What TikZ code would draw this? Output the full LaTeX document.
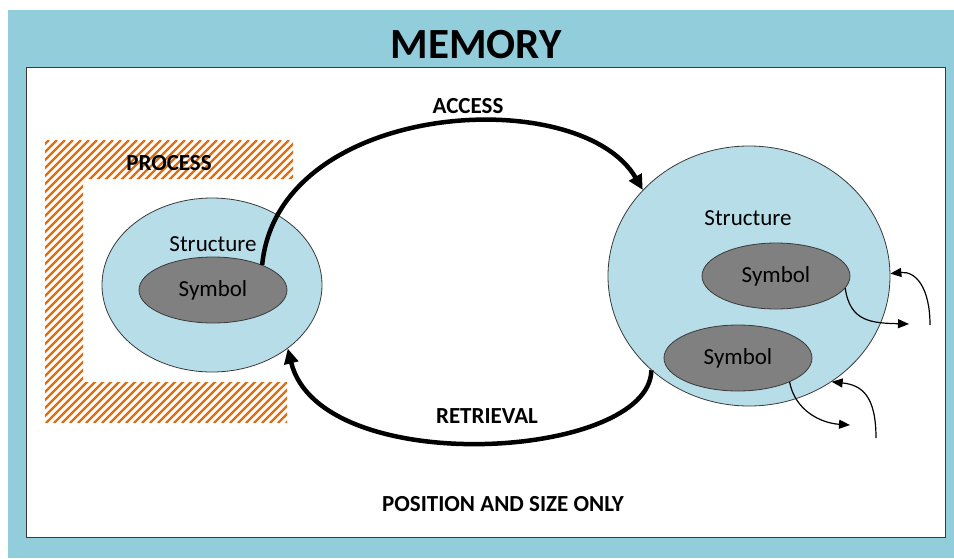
\documentclass[tikz,border=0pt]{standalone}
\usepackage{fontspec}
\setmainfont{Carlito}
\usetikzlibrary{shapes.geometric,arrows.meta}
\definecolor{frameblue}{HTML}{92CDDC}
\definecolor{structblue}{HTML}{B7DEE8}
\definecolor{symgray}{HTML}{808080}
\definecolor{hatchorange}{HTML}{E46C0A}
\definecolor{edgegray}{HTML}{3A3A3A}
\tikzset{
  structure/.style={ellipse,draw=edgegray,line width=0.8pt,fill=structblue,inner sep=0pt},
  symbolnode/.style={ellipse,draw=edgegray,line width=0.8pt,fill=symgray,inner sep=0pt,minimum width=148pt,minimum height=66pt,font=\fontsize{23}{27}\selectfont},
  plainlabel/.style={inner sep=0pt,font=\fontsize{23}{27}\selectfont},
  boldlabel/.style={inner sep=0pt,font=\bfseries\fontsize{23}{27}\selectfont},
  bigflow/.style={line width=4.5pt,-{Triangle[length=15pt,width=14pt]}},
  smallflow/.style={line width=1.2pt,-{Triangle[length=11pt,width=9pt]}},
}
\begin{document}
\begin{tikzpicture}[x=1pt,y=-1pt]
\useasboundingbox (0,0) rectangle (954,558);
\fill[frameblue] (8,10) rectangle (954,558);
\draw[fill=white,draw=edgegray,line width=1pt] (26,67) rectangle (945,537);
\node[inner sep=0pt,font=\bfseries\fontsize{43}{50}\selectfont] (title) at (476,45) {MEMORY};

% hatched process bracket
\begin{scope}
\clip (45,140) rectangle (293,179) (45,140) rectangle (83,423) (45,382) rectangle (287,423);
\foreach \i in {0,8,...,560} {
  \draw[hatchorange,line width=2.4pt] (\i-250,423) -- (\i+33,140);
}
\end{scope}
\node[boldlabel] (process) at (169,163) {PROCESS};

% left structure
\node[structure,minimum width=220pt,minimum height=174pt] (lstruct) at (212,285) {};
\node[plainlabel] (lstructlab) at (213,244) {Structure};
\node[symbolnode] (lsym) at (213,290) {Symbol};

% right structure
\node[structure,minimum width=282pt,minimum height=260pt] (rstruct) at (749,276) {};
\node[plainlabel] (rstructlab) at (748,218) {Structure};
\node[symbolnode] (rsym1) at (776,276) {Symbol};
\node[symbolnode] (rsym2) at (738,358) {Symbol};

% labels
\node[boldlabel] (access) at (468,106) {ACCESS};
\node[boldlabel] (retrieval) at (487,416) {RETRIEVAL};
\node[boldlabel] (posize) at (503,504) {POSITION AND SIZE ONLY};

% main arrows
\draw[bigflow] (lsym.27) .. controls (278,100) and (580,82) .. (rstruct.141);
\draw[bigflow] (rstruct.224) .. controls (650,460) and (320,480) .. (lstruct.320);

% small arrows
\coordinate (out1) at (909,324);
\coordinate (in1) at (930,325);
\coordinate (out2) at (850,425);
\coordinate (in2) at (876,438);
\draw[smallflow] (rsym1.-10) .. controls (850,322) and (872,323) .. (out1);
\draw[smallflow] (in1) .. controls (930,288) and (916,271) .. (rstruct.1);
\draw[smallflow] (rsym2.-25) .. controls (795,410) and (820,423) .. (out2);
\draw[smallflow] (in2) .. controls (876,396) and (862,385) .. (rstruct.-52);
\end{tikzpicture}
\end{document}
